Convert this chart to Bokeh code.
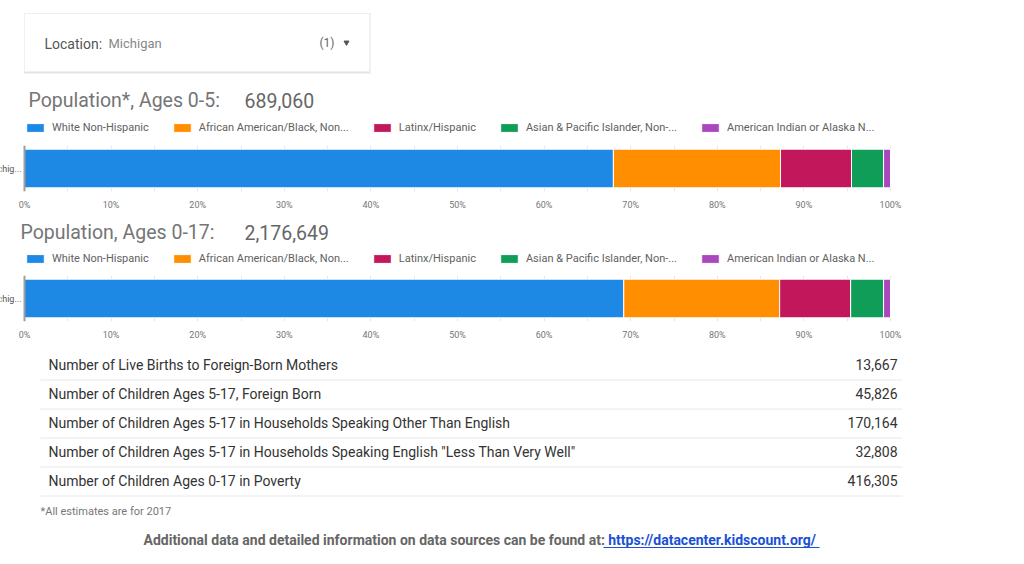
from bokeh.plotting import figure
from bokeh.models import (Range1d, FactorRange, ColumnDataSource, FixedTicker,
                          PrintfTickFormatter, Span)
from bokeh.layouts import column
from bokeh.embed import file_html
from bokeh.resources import INLINE
from bokeh.core.properties import value

# ---------------- data ----------------
location = "Michigan"
location_short = "Michig..."
location_count = "(1)"

groups = ["White Non-Hispanic", "African American/Black, Non...", "Latinx/Hispanic",
          "Asian & Pacific Islander, Non-...", "American Indian or Alaska N..."]
colors = ["#1E88E5", "#FF8F00", "#C2185B", "#0F9D58", "#AB47BC"]

title_0_5 = "Population*, Ages 0-5:"
pop_0_5 = 689060
share_0_5 = [68.0, 19.3, 8.2, 3.7, 0.8]

title_0_17 = "Population, Ages 0-17:"
pop_0_17 = 2176649
share_0_17 = [69.2, 18.0, 8.2, 3.8, 0.8]

x_ticks = [0, 10, 20, 30, 40, 50, 60, 70, 80, 90, 100]
grid_ticks = [0, 5, 10, 15, 20, 25, 30, 35, 40, 45, 50, 55, 60, 65, 70, 75, 80, 85, 90, 95, 100]

indicators = [
    "Number of Live Births to Foreign-Born Mothers",
    "Number of Children Ages 5-17, Foreign Born",
    "Number of Children Ages 5-17 in Households Speaking Other Than English",
    "Number of Children Ages 5-17 in Households Speaking English \"Less Than Very Well\"",
    "Number of Children Ages 0-17 in Poverty",
]
indicator_values = [13667, 45826, 170164, 32808, 416305]

footnote = "*All estimates are for 2017"
source_note = "Additional data and detailed information on data sources can be found at:"
source_link = " https://datacenter.kidscount.org/"

# ---------------- layout constants (pixels) ----------------
W = 1024
FONT = "Roboto"
ZERO_PX, FULL_PX = 24, 890          # where 0% and 100% sit horizontally
PX_PER_PCT = (FULL_PX - ZERO_PX) / 100.0


def style(p):
    p.outline_line_color = None
    p.background_fill_color = "white"
    p.border_fill_color = "white"
    return p


def pixel_fig(top, bottom):
    p = figure(width=W, height=bottom - top, x_range=Range1d(0, W),
               y_range=Range1d(bottom, top), output_backend="svg",
               toolbar_location=None, x_axis_location=None, y_axis_location=None,
               min_border=0)
    p.grid.visible = False
    return style(p)


def heading(p, title, total, title_x, y, legend_y):
    p.text(x=[title_x], y=[y], text=[title], text_font=value(FONT), text_font_size="19.5px",
           text_color="#757575", text_baseline="middle")
    p.text(x=[244], y=[y], text=[f"{total:,}"], text_font=value(FONT),
           text_font_size="19.5px", text_color="#666666", text_baseline="middle")
    # legend entries: zero-width proxies carrying each series' colour
    for g, c in zip(groups, colors):
        p.hbar(y=[0], left=[0], right=[0], height=0, fill_color=c, line_color="white",
               legend_label=g)
    lg = p.legend[0]
    lg.orientation = "horizontal"
    lg.location = (ZERO_PX, legend_y)
    lg.padding = 0
    lg.margin = 0
    lg.spacing = 22
    lg.label_standoff = 6
    lg.glyph_width = 22
    lg.glyph_height = 11
    lg.label_height = 11
    lg.label_text_font_size = "11px"
    lg.label_text_font = FONT
    lg.label_text_color = "#616161"
    lg.border_line_color = None
    lg.background_fill_alpha = 0


def bar_chart(height, frame_h, shares):
    src = ColumnDataSource(dict(loc=[location],
                                **{f"s{i}": [shares[i]] for i in range(len(shares))}))
    p = figure(width=W, height=height, y_range=FactorRange(factors=[location]),
               x_range=Range1d(-ZERO_PX / PX_PER_PCT, (W - ZERO_PX) / PX_PER_PCT),
               output_backend="svg", toolbar_location=None, y_axis_location=None,
               min_border_left=0, min_border_right=0, min_border_top=0,
               min_border_bottom=height - frame_h)
    style(p)
    p.xgrid.ticker = FixedTicker(ticks=grid_ticks)
    p.xgrid.grid_line_color = "#e6e6e6"
    p.ygrid.visible = False
    p.hbar_stack([f"s{i}" for i in range(len(shares))], y="loc", height=0.84,
                 color=colors, line_color="white", line_width=1, source=src)
    p.add_layout(Span(location=0, dimension="height", line_color="#9e9e9e", line_width=2))
    p.text(x=[0], y=[location], text=[location_short], x_offset=-3,
           text_font=value(FONT), text_font_size="9px", text_color="#555555",
           text_baseline="middle", text_align="right")

    ax = p.xaxis[0]
    ax.ticker = FixedTicker(ticks=x_ticks)
    ax.formatter = PrintfTickFormatter(format="%d%%")
    ax.axis_line_color = None
    ax.major_tick_line_color = None
    ax.minor_tick_line_color = None
    ax.major_tick_out = 0
    ax.major_tick_in = 0
    ax.minor_tick_out = 0
    ax.major_label_standoff = 8
    ax.major_label_text_font_size = "9px"
    ax.major_label_text_color = "#757575"
    ax.major_label_text_font = FONT
    return p


# ---------------- header: location card + first heading ----------------
h = pixel_fig(0, 145)
h.quad(left=[23.5], right=[370.5], top=[12.5], bottom=[73.5], fill_color="black",
       fill_alpha=0.05, line_color=None)
h.quad(left=[24], right=[369.5], top=[13.5], bottom=[72], fill_color="black",
       fill_alpha=0.12, line_color=None)
h.quad(left=[24], right=[369], top=[13], bottom=[71], fill_color="white",
       line_color="#f0f0f0")
h.text(x=[44], y=[43], text=["Location:"], text_font=value(FONT),
       text_font_size="14px", text_color="#555555", text_baseline="middle")
h.text(x=[108], y=[43], text=[location], text_font=value(FONT),
       text_font_size="13px", text_color="#888888", text_baseline="middle")
h.text(x=[334], y=[42], text=[location_count], text_font=value(FONT),
       text_font_size="12px", text_color="#666666", text_baseline="middle",
       text_align="right")
h.scatter(x=[346], y=[42], marker="inverted_triangle", size=5, color="#555555")
heading(h, title_0_5, pop_0_5, title_x=28, y=100, legend_y=11)

c1 = bar_chart(height=71, frame_h=46, shares=share_0_5)

m = pixel_fig(216, 275)
heading(m, title_0_17, pop_0_17, title_x=20, y=232, legend_y=10)

c2 = bar_chart(height=70, frame_h=46, shares=share_0_17)

# ---------------- table ----------------
t = pixel_fig(345, 564)
row_y = [364 + 29 * i for i in range(len(indicators))]
sep_y = [y + 15.5 for y in row_y]
t.segment(x0=40, x1=902, y0=sep_y, y1=sep_y, line_color="#e8e8e8", line_width=1)
t.text(x=48, y=row_y, text=indicators, text_font=value(FONT), text_font_size="14px",
       text_color="#333333", text_baseline="middle")
t.text(x=897, y=row_y, text=[f"{v:,}" for v in indicator_values], text_font=value(FONT),
       text_font_size="14px", text_color="#333333", text_baseline="middle",
       text_align="right")
t.text(x=[40], y=[511], text=[footnote], text_font=value(FONT), text_font_size="11px",
       text_color="#777777", text_baseline="middle")
t.text(x=[143], y=[539], text=[source_note], text_font=value(FONT), text_font_size="14px",
       text_font_style="bold", text_color="#666666", text_baseline="middle")
t.text(x=[819], y=[539], text=[source_link], text_font=value(FONT), text_font_size="14px",
       text_font_style="bold", text_color="#1a4fd6", text_baseline="middle",
       text_align="right")
t.segment(x0=[603], x1=[819], y0=[547], y1=[547], line_color="#1a4fd6", line_width=1)

layout = column(h, c1, m, c2, t, spacing=0)
open("out.html", "w").write(file_html(layout, INLINE))
